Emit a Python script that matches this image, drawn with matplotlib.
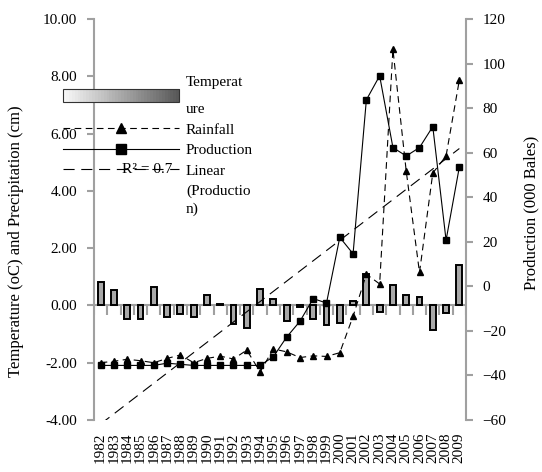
import numpy as np
import matplotlib
matplotlib.use("Agg")
import matplotlib.pyplot as plt
from matplotlib.patches import Rectangle, Patch
from matplotlib.lines import Line2D
from matplotlib.legend_handler import HandlerBase

plt.rcParams['font.family'] = ['Liberation Serif', 'DejaVu Serif']

years = [str(y) for y in range(1982, 2010)]
temperature = [0.83, 0.53, -0.49, -0.49, 0.65, -0.40, -0.31, -0.40, 0.38, 0.05,
               -0.66, -0.78, 0.58, 0.21, -0.55, -0.05, -0.49, -0.69, -0.63, 0.15,
               1.08, -0.23, 0.73, 0.38, 0.30, -0.86, -0.28, 1.41]
rainfall = [-2.00, -1.95, -1.88, -1.93, -2.00, -1.85, -1.73, -2.00, -1.85, -1.77,
            -1.87, -1.56, -2.32, -1.52, -1.62, -1.82, -1.76, -1.78, -1.65, -0.38,
            1.09, 0.75, 8.94, 4.69, 1.15, 4.62, 5.22, 7.87]
production = [-35.5, -35.5, -35.5, -35.5, -35.5, -34.5, -35.0, -35.5, -35.5, -35.5,
              -35.5, -35.5, -35.5, -31.6, -22.8, -15.7, -5.5, -7.5, 22.0, 14.6,
              83.7, 94.5, 62.3, 58.5, 62.3, 71.7, 20.7, 53.6]
r2_label = "R\u00b2 = 0.7"

x = np.arange(len(years))
grey = '#a0a0a0'


class GradHandler(HandlerBase):
    # white -> dark grey gradient box, like the excel legend key
    def create_artists(self, legend, orig_handle, xdescent, ydescent,
                       width, height, fontsize, trans):
        arts = []
        n = 40
        for i in range(n):
            c = 0.97 - 0.62 * i / (n - 1)
            arts.append(Rectangle((-xdescent + width * i / n, -ydescent - 1),
                                  width / n + 0.3, height + 2,
                                  facecolor=(c, c, c), edgecolor='none', transform=trans))
        arts.append(Rectangle((-xdescent, -ydescent - 1), width, height + 2,
                              facecolor='none', edgecolor='#333333', lw=0.8, transform=trans))
        return arts


fig = plt.figure(figsize=(5.42, 4.72), dpi=100)
ax = fig.add_axes([94 / 542, 52 / 472, 372 / 542, 401 / 472])
ax2 = ax.twinx()

# temperature bars + rainfall on left axis
ax.axhline(0, color=grey, lw=1.5, zorder=1)
ax.vlines(np.arange(len(years) + 1) - 0.5, -0.35, 0, color=grey, lw=1.5, zorder=1)
ax.bar(x, temperature, width=0.45, color='#a8a8a8', edgecolor='black', linewidth=1.4, zorder=3)
ax.plot(x, rainfall, color='black', lw=0.8, ls=(0, (6, 4)), marker='^', ms=5, zorder=4)

# production on right axis
coef = np.polyfit(x, production, 1)
ax2.plot(x, production, color='black', lw=0.8, marker='s', ms=4.8, zorder=4)
ax2.plot(x, np.polyval(coef, x), color='black', lw=0.8, ls=(0, (10, 6)), zorder=3)

ax.set_xlim(-0.5, len(years) - 0.5)
ax.set_ylim(-4, 10)
ax.set_yticks(np.arange(-4, 10.1, 2))
ax.set_yticklabels(['%.2f' % v for v in np.arange(-4, 10.1, 2)])
ax2.set_ylim(-60, 120)
ax2.set_yticks(np.arange(-60, 121, 20))

ax.set_xticks(x)
ax.set_xticklabels(years, rotation=90, fontsize=11)
ax.tick_params(axis='x', length=0, pad=9)
ax.tick_params(axis='y', length=5, width=1.5, color=grey, pad=7, labelsize=11)
ax2.tick_params(axis='y', length=5, width=1.5, color=grey, pad=7, labelsize=11)

for a in (ax, ax2):
    a.spines['top'].set_visible(False)
    a.spines['bottom'].set_visible(False)
    a.spines['left'].set_color(grey)
    a.spines['right'].set_color(grey)
    a.spines['left'].set_linewidth(1.5)
    a.spines['right'].set_linewidth(1.5)
ax.spines['right'].set_visible(False)
ax2.spines['left'].set_visible(False)

ax.set_ylabel('Temperature (oC) and Precipitation (cm)', fontsize=12, va='center')
ax.yaxis.set_label_coords(-0.21, 0.446)
ax2.set_ylabel('Production (000 Bales)', fontsize=12, rotation=90, va='center')
ax2.yaxis.set_label_coords(1.177, 0.516)

# legend
h_temp = Patch()
h_rain = Line2D([], [], color='black', lw=0.8, ls=(0, (6, 4)), marker='^', ms=7)
h_prod = Line2D([], [], color='black', lw=0.8, marker='s', ms=7)
h_lin = Line2D([], [], color='black', lw=0.8, ls=(0, (10, 6)))
h_blank = Line2D([], [], ls='none')
leg = fig.legend([h_temp, h_rain, h_prod, h_lin, h_blank],
                 ['Temperat\nure', 'Rainfall', 'Production', 'Linear', '(Productio\nn)'],
                 handler_map={h_temp: GradHandler()},
                 loc='upper left', bbox_to_anchor=(63 / 542, 1 - 76 / 472),
                 frameon=False, borderpad=0, borderaxespad=0,
                 handlelength=7.6, handletextpad=0.45, labelspacing=0.45, fontsize=11)
leg.get_texts()[0].set_linespacing(2.4)
leg.get_texts()[4].set_linespacing(1.4)
fig.text(122 / 542, 1 - 170 / 472, r2_label, fontsize=11, va='center')

fig.savefig('out.png', dpi=100)
